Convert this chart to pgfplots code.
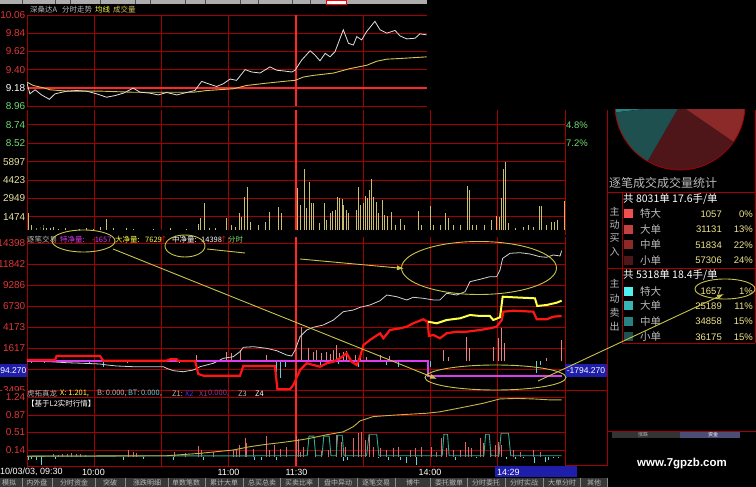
\documentclass[border=0pt]{standalone}
\usepackage{pgfplots}
\pgfplotsset{compat=1.18}
\usepackage{fontspec}
\setmainfont{Liberation Sans}
\newfontfamily\cjk{Noto Sans CJK SC}
\usetikzlibrary{arrows.meta}

\definecolor{gridred}{RGB}{165,0,0}
\definecolor{brightred}{RGB}{255,40,40}
\definecolor{pwhite}{RGB}{225,225,225}
\definecolor{avgyel}{RGB}{215,195,90}
\definecolor{volbar}{RGB}{200,190,110}
\definecolor{labred}{RGB}{225,55,55}
\definecolor{labgreen}{RGB}{110,220,110}
\definecolor{labyel}{RGB}{232,226,160}
\definecolor{midwhite}{RGB}{210,210,210}
\definecolor{midred}{RGB}{255,20,20}
\definecolor{midyel}{RGB}{255,255,70}
\definecolor{midmag}{RGB}{220,60,240}
\definecolor{barpink}{RGB}{230,130,130}
\definecolor{barcyan}{RGB}{90,210,220}
\definecolor{botred}{RGB}{225,100,100}
\definecolor{botcyan}{RGB}{90,220,220}
\definecolor{botyel}{RGB}{200,180,70}
\definecolor{bump}{RGB}{50,170,150}
\definecolor{note}{RGB}{200,195,75}
\definecolor{boxblue}{RGB}{30,30,170}
\definecolor{numyel}{RGB}{240,230,140}
\definecolor{txtgray}{RGB}{185,185,185}
\definecolor{pbuyA}{RGB}{240,80,80}
\definecolor{pbuyB}{RGB}{195,65,65}
\definecolor{pbuyC}{RGB}{140,42,42}
\definecolor{pbuyD}{RGB}{78,22,24}
\definecolor{psellA}{RGB}{80,240,240}
\definecolor{psellB}{RGB}{55,180,180}
\definecolor{psellC}{RGB}{40,130,130}
\definecolor{psellD}{RGB}{30,80,80}

\pgfplotsset{
  panel/.style={
    scale only axis, anchor=south west, clip=true,
    axis line style={draw=none}, tick style={draw=none}, major tick length=0pt,
    xmin=0, xmax=240,
    xtick={0,30,60,90,150,180,210,240}, xticklabels={},
    extra x ticks={120}, extra x tick labels={},
    extra x tick style={major grid style={draw=brightred, line width=1.5pt}},
    grid=major, major grid style={draw=gridred, line width=0.8pt},
    yticklabel style={font=\fontsize{10}{12}\selectfont, anchor=east, inner sep=0pt, xshift=-1.5pt},
  }
}

\begin{document}
\begin{tikzpicture}
\useasboundingbox (0,0) rectangle (756pt,487pt);
\clip (0,0) rectangle (756pt,487pt);
\fill[black] (0,0) rectangle (756pt,487pt);

% ---------- price panel ----------
\begin{axis}[panel, at={(27pt,381pt)}, width=400pt, height=91pt,
  xmax=178.44, ymin=8.96, ymax=10.06,
  ytick={8.96,9.18,9.40,9.62,9.84,10.06},
  yticklabels={\textcolor{labgreen}{8.96},\textcolor{white}{9.18},\textcolor{labred}{9.40},\textcolor{labred}{9.62},\textcolor{labred}{9.84},\textcolor{labred}{10.06}},
  extra y ticks={9.18}, extra y tick labels={},
  extra y tick style={major grid style={draw=brightred, line width=1.8pt}}]
\addplot[avgyel, line width=0.9pt] coordinates {
(0,9.248) (2.8,9.208) (7.3,9.18) (10.3,9.156) (17.7,9.14) (32.6,9.14) (47.4,9.126)
(62.3,9.126) (74.2,9.126) (80.2,9.147) (92.0,9.168) (98.0,9.208) (106.9,9.236)
(115.8,9.261) (119.6,9.27) (123.3,9.31) (127.8,9.33) (136.7,9.358) (144.1,9.412)
(151.6,9.453) (156.0,9.501) (160.5,9.526) (166.4,9.534) (178.3,9.554)};
\addplot[pwhite, line width=0.8pt] coordinates {
(0,9.237) (1.3,9.107) (3.6,9.156) (6.5,9.094) (10.0,9.041) (12.5,9.107) (17.7,9.139)
(22.2,9.147) (26.6,9.139) (31.1,9.107) (35.5,9.066) (39.3,9.086) (43.0,9.115)
(47.4,9.176) (50.4,9.127) (54.9,9.115) (58.6,9.094) (62.3,9.123) (66.8,9.094)
(71.2,9.123) (74.9,9.147) (77.9,9.257) (80.9,9.229) (84.6,9.196) (87.6,9.229)
(90.6,9.286) (93.5,9.270) (97.3,9.400) (100.2,9.371) (104.0,9.359) (108.4,9.433)
(111.4,9.392) (114.4,9.384) (118.1,9.371) (119.6,9.392) (122.5,9.514) (126.3,9.628)
(128.5,9.575) (130.7,9.506) (133.0,9.596) (135.2,9.555) (137.4,9.616) (141.1,9.881)
(143.4,9.718) (145.6,9.697) (147.1,9.799) (149.3,9.759) (151.5,9.860) (155.2,9.983)
(157.5,9.881) (160.5,9.840) (164.2,9.873) (166.4,9.807) (169.4,9.771) (173.1,9.779)
(175.3,9.832) (178.3,9.820)};
\end{axis}

% ---------- volume panel ----------
\begin{axis}[panel, at={(27pt,252pt)}, width=538pt, height=125pt,
  ymin=0, ymax=10041,
  ytick={1474,2949,4423,5897,7371,8846},
  yticklabels={\textcolor{labyel}{1474},\textcolor{labyel}{2949},\textcolor{labyel}{4423},\textcolor{labyel}{5897},\textcolor{labgreen}{8.52},\textcolor{labgreen}{8.74}}]
\addplot[ycomb, draw=volbar, line width=1pt] coordinates {
(0.6,1743) (2.1,803) (4.3,538) (5.8,619) (7.3,803) (8.8,562) (10.3,538) (11.7,667)
(14.0,458) (17.0,538) (19.9,402) (23.6,458) (26.6,538) (29.6,458) (32.6,619) (35.6,1285)
(38.5,538) (44.5,586) (47.4,458) (51.9,402) (56.3,458) (59.3,402) (63.8,538) (67.5,402)
(71.2,458) (76.4,884) (77.2,1341) (79.4,2546) (81.6,538) (83.9,538) (89.1,1341)
(91.3,803) (92.8,667) (94.7,1791) (95.8,1470) (96.9,3028) (98.5,3832) (99.5,1068)
(103.2,803) (106.6,1068) (108.1,1872) (112.4,2273) (113.6,1743) (120.6,3751)
(121.8,2410) (123.7,5278) (124.5,2145) (125.8,4233) (127.0,2595) (127.7,2546)
(130.7,940) (132.5,2595) (133.7,1205) (135.2,1743) (136.4,1952) (137.8,2008)
(138.6,3028) (139.6,2948) (140.8,2892) (141.4,2410) (142.6,2008) (143.3,1743)
(146.8,2008) (147.8,3832) (148.9,2410) (150.0,2595) (150.8,3133) (151.8,2948)
(153.0,3615) (153.5,4474) (154.5,3028) (155.7,2675) (156.7,1743) (158.7,2812)
(159.7,1607) (160.7,1526) (162.7,1872) (164.2,803) (166.7,1261) (168.2,803)
(174.6,1952) (176.1,803) (179.8,2330) (181.3,803) (184.6,803) (186.5,1791)
(187.9,1341) (190.2,803) (193.2,803) (196.6,3936) (197.6,3615) (198.8,803)
(200.6,803) (204.3,803) (207.3,1205) (209.5,1526) (210.7,1470) (211.8,2948)
(212.5,5278) (213.5,5888) (214.7,940) (217.7,538) (221.4,667) (223.6,803)
(225.9,667) (228.6,2330) (229.7,2330) (231.8,803) (234.1,1068) (235.5,1068)
(236.6,1205) (239.7,2755)};
\end{axis}

\begin{scope}[x=1pt,y=-1pt,yshift=487pt]
\fill[black] (27,230.5) rectangle (565,237);
\end{scope}

% ---------- tick-by-tick net volume panel ----------
\begin{axis}[panel, at={(27pt,96pt)}, width=538pt, height=154pt,
  ymin=-3614, ymax=15127,
  ytick={-3495,-939,1617,4173,6730,9286,11842,14398},
  yticklabels={\textcolor{labred}{-3495},{},\textcolor{labred}{1617},\textcolor{labred}{4173},\textcolor{labred}{6730},\textcolor{labred}{9286},\textcolor{labred}{11842},\textcolor{labred}{14398}}]
\addplot[ycomb, draw=barpink, line width=0.9pt] coordinates {
(5,150) (12,200) (22,150) (40,120) (50,100) (62,150) (72,120) (75.7,767) (89.1,1168)
(91.3,974) (95.0,1375) (106.9,767) (122.5,4211) (125.5,1582) (127.7,1168) (129.2,1375)
(131.5,974) (133.7,1168) (135.2,888) (136.7,1375) (138.1,1984) (139.6,974) (141.1,1168)
(142.6,1290) (146.3,767) (148.6,888) (151.5,560) (157.5,767) (161.9,645) (185.7,1375)
(188.0,560) (196.1,2994) (197.3,1582) (208.0,1777) (210.3,2799) (211.7,4016)
(212.8,2190) (231.8,365) (238.5,2592)};
\addplot[ycomb, draw=barcyan, line width=0.9pt] coordinates {
(2,-200) (8,-150) (18,-120) (28,-200) (34.0,-657) (45,-150) (55,-120) (68,-200)
(111.4,-1266) (112.9,-2069) (115.1,-657) (130.7,-450) (138.9,-329) (147.8,-657)
(160.4,-450) (165.6,-657) (179.8,-657) (227.4,-1460) (228.9,-450)};
\addplot[midwhite, line width=0.8pt] coordinates {
(0,37) (10.3,-49) (17.7,-170) (25.1,-243) (32.6,-329) (35.6,-450) (40.0,-572)
(47.4,-657) (54.9,-657) (60.8,-657) (62.3,-852) (65.3,-1144) (69.7,-1266) (74.2,-1059)
(77.2,-657) (83.1,-243) (87.6,365) (92.0,560) (95.0,1168) (96.5,1704) (101.0,1777)
(106.9,1582) (111.4,1290) (115.8,767) (118.1,645) (119.6,1375) (121.8,2994)
(124.8,3809) (127.7,4138) (132.2,4418) (136.7,5026) (141.1,6036) (145.6,6243)
(148.6,6572) (153.0,6852) (157.5,7375) (160.5,8069) (164.9,7862) (169.4,7460)
(172.3,7789) (176.8,7667) (181.3,7460) (184.2,7460) (187.2,8276) (191.7,8069)
(195.4,8471) (197.6,9687) (202.1,9980) (206.5,10296) (209.5,10296) (211.0,11111)
(212.2,12535) (215.5,13144) (219.9,13217) (224.4,13059) (228.8,12730) (231.8,12657)
(234.8,12937) (237.8,12815) (238.5,13460)};
\addplot[midmag, line width=1.8pt] coordinates {
(0,0) (178.9,0) (178.9,-1794.27) (238.5,-1794.27)};
\addplot[midred, line width=2.2pt] coordinates {
(0,158) (12.5,158) (13.2,645) (32.6,645) (34.0,73) (62.3,73) (63.8,243) (66.8,243)
(67.5,37) (75.0,37) (76.4,-1545) (78.7,-1753) (95.0,-1753) (96.5,-572) (110.6,-572)
(111.7,-3408) (117.3,-3408) (118.8,-2884) (121.8,-1059) (124.8,-243) (127.7,-450)
(130.7,-657) (133.7,-243) (136.7,-49) (139.6,365) (142.6,974) (144.8,-49) (147.1,-450)
(148.6,560) (150.1,1984) (153.0,2592) (155.2,2994) (157.5,3408) (159.0,2799)
(161.9,3809) (166.4,4016) (169.4,4211) (172.3,4625) (176.8,5111) (178.7,4819)
(179.3,3079) (181.3,3201) (184.2,2799) (187.2,3408) (191.7,3602) (196.1,3602)
(202.1,3809) (206.5,4016) (209.5,4211) (211.8,5026) (212.5,6036) (217.0,6158)
(225.9,6036) (227.4,5111) (231.8,5111) (234.8,5428) (238.5,5513)};
\addplot[midyel, line width=2pt] coordinates {
(178.9,4819) (182.8,4625) (187.2,5026) (193.2,5233) (197.6,5635) (202.1,5513)
(206.5,5513) (208.0,5026) (211.0,5355) (212.2,7862) (217.0,7789) (226.6,7667)
(227.6,6730) (231.8,6852) (236.3,7132) (238.5,7375)};
\end{axis}

% the indicator title strip hides the lower half of the last label above it
\begin{scope}[x=1pt,y=-1pt,yshift=487pt]
\fill[black] (0,391.5) rectangle (27,394);
\end{scope}

% ---------- indicator panel ----------
\begin{axis}[panel, at={(27pt,21pt)}, width=538pt, height=75pt,
  ymin=-0.195, ymax=1.376,
  ytick={0.14,0.51,0.87,1.24},
  yticklabels={\textcolor{labred}{0.14},\textcolor{labred}{0.51},\textcolor{labred}{0.87},\textcolor{labred}{1.24}},
  extra y ticks={-0.195}, extra y tick labels={}]
\addplot[ycomb, draw=botred, line width=1pt] coordinates {
(12,0.05) (14,0.04) (16,0.06) (18,0.05) (20,0.07) (22,0.05) (24,0.06) (26,0.04)
(45.2,0.14) (47.4,0.10) (48.9,0.07) (66.0,0.10) (70.5,0.07) (76.4,0.23) (77.9,0.14)
(83.1,0.10) (92.0,0.14) (93.5,0.17) (95.0,0.24) (97.3,0.40) (98.0,0.28) (101.0,0.17)
(106.9,0.44) (108.4,0.14) (110.6,0.24) (112.9,0.17) (115.8,0.21) (120.3,0.44)
(121.0,0.38) (121.8,0.10) (123.3,0.21) (128.5,0.14) (131.5,0.12) (134.4,0.14)
(138.2,0.45) (140.4,0.31) (142.2,0.21) (145.6,0.385) (147.8,0.49) (149.3,0.52)
(150.8,0.35) (153.0,0.45) (154.5,0.21) (157.5,0.18) (160.5,0.14) (163.4,0.18)
(165.7,0.21) (170.9,0.14) (173.1,0.18) (176.1,0.21) (180.5,0.21) (182.8,0.10)
(185.0,0.385) (187.2,0.18) (190.2,0.14) (193.2,0.14) (195.4,0.31) (196.9,0.21)
(198.4,0.18) (202.1,0.385) (203.6,0.28) (206.6,0.21) (208.8,0.24) (210.3,0.31)
(211.8,0.24) (217.0,0.14) (220.0,0.10) (225.9,0.14) (228.9,0.10)};
\addplot[ycomb, draw=botcyan, line width=1pt] coordinates {
(0.6,-0.07) (2.1,-0.05) (4.3,-0.07) (6.5,-0.17) (12.5,-0.05) (43.0,-0.07) (51.9,-0.05)
(65.3,-0.06) (78.7,-0.07) (101.6,-0.07) (104.7,-0.06) (111.4,-0.06) (141.1,-0.10)
(143.0,-0.07) (156.7,-0.035) (161.2,-0.07) (166.4,-0.07) (169.4,-0.14) (173.6,-0.17)
(191.0,-0.07) (200.6,-0.035) (214.0,-0.05) (217.7,-0.05) (221.4,-0.035) (226.5,-0.14)
(231.1,-0.12) (232.6,-0.07) (234.8,-0.035) (237.1,-0.02)};
\addplot[bump, line width=0.9pt] coordinates {
(0,0.01) (119,0.02) (125.0,0.02) (125.8,0.43) (128.0,0.43) (128.8,0.02) (131.6,0.02)
(132.4,0.43) (134.8,0.43) (135.6,0.02) (137.9,0.02) (138.6,0.45) (140.6,0.45)
(141.4,0.02) (151.5,0.02) (152.6,0.47) (156.0,0.47) (157.0,0.02) (185.2,0.02)
(186.0,0.47) (187.6,0.47) (188.3,0.02) (203.8,0.02) (204.6,0.47) (206.2,0.47)
(207.0,0.02) (210.5,0.02) (211.5,0.49) (214.8,0.49) (215.8,0.02) (238.5,0.02)};
\addplot[botyel, line width=0.9pt] coordinates {
(0,0.01) (11.7,0.015) (28.1,0.015) (62.3,0.02) (77.2,0.07) (92.0,0.14) (99.5,0.21)
(106.9,0.26) (114.3,0.30) (121.8,0.35) (126.2,0.385) (133.7,0.46) (141.1,0.52)
(145.6,0.63) (148.6,0.75) (154.5,0.84) (163.4,0.87) (170.9,0.89) (178.3,0.91)
(184.2,0.94) (188.7,0.98) (196.2,1.05) (203.6,1.12) (211.0,1.21) (218.5,1.22)
(225.9,1.21) (233.3,1.19) (238.5,1.19)};
\end{axis}

% ---------- order-size pie ----------
\begin{scope}
\clip (607pt,0pt) rectangle (756pt,377pt);
\def\angA{240}
\foreach \p/\c in {24/pbuyD,22/pbuyC,13/pbuyB,0/pbuyA,1/psellA,11/psellB,15/psellC,15/psellD}{
  \pgfmathsetmacro\angB{\angA+\p*360/101}
  \fill[\c] (680pt,382pt) -- ++(\angA:65pt) arc[start angle=\angA, end angle=\angB, radius=65pt] -- cycle;
  \xdef\angA{\angB}
}
\draw[gridred, line width=0.8pt] (680pt,382pt) circle[radius=65pt];
\end{scope}

% ---------- texts, frames and notes ----------
\begin{scope}[x=1pt,y=-1pt,yshift=487pt]
% top menu strip and title
\fill[black!32] (0,0) rectangle (427,4.5);
\foreach \s in {22,55,70,100,135,150,185,205,240,258,292,310}{\draw[black!70, line width=0.8pt] (\s,0) -- (\s,4.5);}
\draw[red, fill=white] (326,0) rectangle (346,4.5);
\node[anchor=west, inner sep=0pt, text=txtgray, font=\cjk\fontsize{7.5}{8}\selectfont] at (30,9.5) {深桑达A};
\node[anchor=west, inner sep=0pt, text=txtgray, font=\cjk\fontsize{7.5}{8}\selectfont] at (62,9.5) {分时走势};
\node[anchor=west, inner sep=0pt, text=midyel, font=\cjk\fontsize{7.5}{8}\selectfont] at (95,9.5) {均线};
\node[anchor=west, inner sep=0pt, text=avgyel, font=\cjk\fontsize{7.5}{8}\selectfont] at (113,9.5) {成交量};

% right-hand percent labels
\node[anchor=west, inner sep=0pt, text=labgreen, font=\fontsize{9.5}{11}\selectfont] at (566,125) {4.8\%};
\node[anchor=west, inner sep=0pt, text=labgreen, font=\fontsize{9.5}{11}\selectfont] at (566,143) {7.2\%};

% middle panel header
\begin{scope}[every node/.style={anchor=west, inner sep=0pt, font=\cjk\fontsize{7.5}{8}\selectfont}]
\node[text=txtgray] at (27,239.5) {逐笔交易};
\node[text=midmag] at (60,239.5) {特净量:};
\node[text=midmag] at (92,239.5) {-1657};
\node[text=midyel] at (115,239.5) {大净量:};
\node[text=midyel] at (145,239.5) {7629};
\node[text=red] at (160,239.5) {↑};
\node[text=white] at (172,239.5) {中净量:};
\node[text=white] at (201,239.5) {14398};
\node[text=red] at (220,239.5) {↑};
\node[text=labgreen] at (228,239.5) {分时};
% indicator header
\node[text=txtgray] at (27,393.5) {虎拓真龙};
\node[text=midyel] at (60,393.5) {X: 1.201,};
\node[text=txtgray] at (97,393.5) {B: 0.000,};
\node[text=barcyan] at (128,393.5) {BT: 0.000,};
\node[text=txtgray] at (172,393.5) {Z1:};
\node[text=blue!80!white] at (185,393.5) {X2};
\node[text=violet!80!white] at (199,393.5) {X1};
\node[text=violet!80!white] at (208,393.5) {0.000,};
\node[text=txtgray] at (238,393.5) {Z3};
\node[text=white] at (255,393.5) {Z4};
\node[text=white] at (27,403.5) {【基于L2实时行情】};
\end{scope}

% current value boxes
\fill[boxblue] (0,364) rectangle (27,377);
\node[anchor=east, inner sep=0pt, text=white, font=\fontsize{8.5}{10}\selectfont] at (26.5,370.5) {-1794.270};
\fill[boxblue] (565,364) rectangle (607,377);
\node[inner sep=0pt, text=white, font=\fontsize{8.5}{10}\selectfont] at (586,370.5) {-1794.270};

% time labels
\begin{scope}[every node/.style={inner sep=0pt, text=white, font=\fontsize{9}{10}\selectfont}]
\node[anchor=west] at (0,472) {10/03/03, 09:30};
\node at (93.5,472) {10:00};
\node at (228.5,472) {11:00};
\node at (296.5,472) {11:30};
\node at (430,472) {14:00};
\end{scope}
\fill[boxblue] (495,466.5) rectangle (577,477.5);
\node[anchor=west, inner sep=0pt, text=white, font=\fontsize{9}{10}\selectfont] at (497,472) {14:29};

% bottom tab bar
\fill[black!78] (0,478) rectangle (607,487);
\foreach \s in {22,52,95,125,168,205,243,280,318,357,395,430,467,505,543,580,607}{\draw[black!45, line width=0.8pt] (\s,478) -- (\s,487);}
\foreach \x/\s in {9/模拟,37/内外盘,74/分时资金,110/突破,147/涨跌明细,186/单数笔数,224/累计大单,262/总买总卖,299/买卖比率,338/盘中异动,376/逐笔交易,413/博牛,449/委托撤单,486/分时委托,524/分时实战,562/大单分时,594/其他}{
  \node[inner sep=0pt, text=txtgray, font=\cjk\fontsize{7}{8}\selectfont] at (\x,482.8) {\s};
}

% right panel frames
\draw[gridred, line width=0.8pt] (607,110) -- (607,466);
\draw[gridred, line width=0.8pt] (755,110) -- (755,343);
\draw[gridred, line width=0.8pt] (607,192) -- (755,192);
\draw[gridred, line width=0.8pt] (607,268) -- (755,268);
\draw[gridred, line width=0.8pt] (622,343) -- (755,343);
\draw[gridred, line width=0.8pt] (622,192) -- (622,343);
\draw[gridred, line width=0.8pt] (565,390.5) -- (607,390.5);
\draw[gridred, line width=0.8pt] (565,465.5) -- (607,465.5);
\draw[gridred, line width=0.8pt] (607,431) -- (756,431);
\fill[black!80] (612,432) rectangle (680,438);
\fill[black!60!blue!40!gray] (680,432) rectangle (740,438);
\node[inner sep=0pt, text=txtgray, font=\cjk\fontsize{5}{6}\selectfont] at (643,435) {涨跌};
\node[inner sep=0pt, text=white, font=\cjk\fontsize{5}{6}\selectfont] at (713,435) {资金};

% order statistics table
\node[anchor=west, inner sep=0pt, text=txtgray, font=\cjk\fontsize{12}{13}\selectfont] at (609,183) {逐笔成交成交量统计};
\node[anchor=west, inner sep=0pt, text=white, font=\cjk\fontsize{10.5}{11}\selectfont] at (623,199.5) {共 8031单 17.6手/单};
\node[anchor=west, inner sep=0pt, text=white, font=\cjk\fontsize{10.5}{11}\selectfont] at (623,275.5) {共 5318单 18.4手/单};
\foreach \y/\s in {212/主,225/动,238.5/买,252/入,284/主,298.5/动,312.5/卖,326.5/出}{
  \node[inner sep=0pt, text=txtgray, font=\cjk\fontsize{10}{11}\selectfont] at (614.5,\y) {\s};
}
\foreach \y/\c/\n/\v/\q in {214/pbuyA/特大/1057/0\%, 229.5/pbuyB/大单/31131/13\%, 245/pbuyC/中单/51834/22\%, 260.5/pbuyD/小单/57306/24\%,
  291.5/psellA/特大/1657/1\%, 306/psellB/大单/25189/11\%, 321.5/psellC/中单/34858/15\%, 337/psellD/小单/36175/15\%}{
  \fill[\c] (624,\y-4.5) rectangle (633,\y+4.5);
  \node[anchor=west, inner sep=0pt, text=txtgray, font=\cjk\fontsize{10.5}{11}\selectfont] at (640,\y) {\n};
  \node[anchor=east, inner sep=0pt, text=numyel, font=\fontsize{9.5}{11}\selectfont] at (722,\y) {\v};
  \node[anchor=east, inner sep=0pt, text=numyel, font=\fontsize{9.5}{11}\selectfont] at (753,\y) {\q};
}

% site mark
\node[inner sep=0pt, text=white, font=\bfseries\fontsize{11.5}{13}\selectfont] at (682,463.5) {www.7gpzb.com};

% hand-drawn notes
\begin{scope}[note, line width=0.9pt]
\draw (83.5,241) ellipse[x radius=31.5pt, y radius=11pt];
\draw (185,246) ellipse[x radius=20pt, y radius=11pt];
\draw (207,249) -- (245,253);
\draw[-{Latex[length=7pt,width=5pt]}] (113,249) -- (437,379);
\draw[-{Latex[length=7pt,width=5pt]}] (300,259) -- (404,268.5);
\draw (479,268) ellipse[x radius=77.5pt, y radius=26.5pt];
\draw (495.5,377.5) ellipse[x radius=70.5pt, y radius=12.5pt];
\draw[-{Latex[length=7pt,width=5pt]}] (538,381) -- (724,294);
\draw (725,289) ellipse[x radius=30pt, y radius=10pt];
\end{scope}
\end{scope}
\end{tikzpicture}
\end{document}
